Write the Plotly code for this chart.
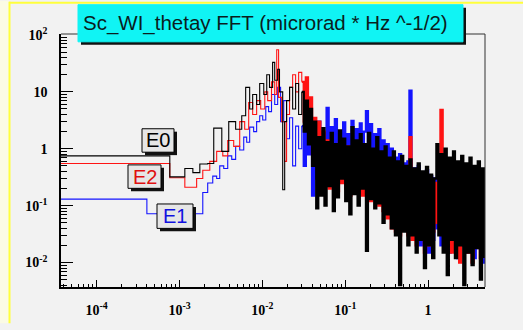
import plotly.graph_objects as go

# ---- spectra: low-frequency staircase part (frequency in Hz, amplitude) ----
e0_lo_f = [3e-5, 7.64e-4, 1.16e-3, 1.45e-3, 1.76e-3, 2.19e-3, 2.59e-3, 3.24e-3, 3.93e-3, 4.76e-3,
           5.64e-3, 6.29e-3, 7.03e-3, 7.64e-3, 8.53e-3, 9.29e-3, 1.04e-2, 1.13e-2, 1.22e-2, 1.33e-2,
           1.41e-2, 1.53e-2, 1.61e-2, 1.76e-2, 1.86e-2, 1.96e-2, 2.13e-2, 2.32e-2, 2.52e-2, 2.74e-2]
e0_lo_v = [0.75, 0.32, 0.45, 0.38, 0.54, 0.55, 2.3, 0.9, 3.0, 2.2,
           3.8, 12, 5, 9, 6, 14, 9, 20, 12, 33,
           16, 25, 10, 0.19, 3, 7, 12, 5, 14, 4]

e2_lo_f = [3e-5, 7.64e-4, 1.16e-3, 1.61e-3, 1.91e-3, 2.32e-3, 2.81e-3, 3.33e-3, 3.82e-3, 4.51e-3,
           5.33e-3, 6.12e-3, 6.84e-3, 7.64e-3, 8.53e-3, 9.55e-3, 1.07e-2, 1.16e-2, 1.29e-2, 1.41e-2,
           1.49e-2, 1.57e-2, 1.71e-2, 1.86e-2, 1.96e-2, 2.13e-2, 2.32e-2, 2.52e-2, 2.74e-2]
e2_lo_v = [0.55, 0.31, 0.21, 0.3, 0.42, 0.6, 0.9, 0.75, 1.4, 1.1,
           3.0, 2.2, 6.5, 4, 7, 5, 10, 7, 15, 9,
           55, 8, 3, 0.6, 4, 12, 20, 10, 22]

e1_lo_f = [3e-5, 4.04e-4, 1.91e-3, 2.19e-3, 2.52e-3, 2.81e-3, 3.06e-3, 3.42e-3, 3.82e-3, 4.27e-3,
           4.76e-3, 5.33e-3, 5.96e-3, 6.47e-3, 7.03e-3, 7.85e-3, 8.53e-3, 9.29e-3, 1.01e-2, 1.10e-2,
           1.19e-2, 1.29e-2, 1.41e-2, 1.53e-2, 1.66e-2, 1.81e-2, 1.96e-2, 2.13e-2, 2.32e-2, 2.52e-2,
           2.74e-2]
e1_lo_v = [0.13, 0.072, 0.17, 0.25, 0.33, 0.3, 0.5, 0.45, 0.75, 0.65,
           1.1, 0.95, 1.6, 1.3, 2.4, 2.0, 3.0, 3.8, 3.2, 5.5,
           4.5, 9, 6, 12, 3, 7, 1.5, 3.5, 0.5, 2.5,
           1.0]

# ---- spectra: dense high-frequency part, shared frequency grid (Hz) ----
band_f = [0.0299, 0.0316, 0.0335, 0.0355, 0.0376, 0.0398, 0.0422, 0.0447, 0.0473, 0.0501,
          0.0531, 0.0562, 0.0596, 0.0631, 0.0668, 0.0708, 0.0750, 0.0794, 0.0841, 0.0891,
          0.0944, 0.100, 0.106, 0.112, 0.119, 0.126, 0.133, 0.141, 0.150, 0.158,
          0.168, 0.178, 0.188, 0.200, 0.211, 0.224, 0.237, 0.251, 0.266, 0.282,
          0.299, 0.316, 0.335, 0.355, 0.376, 0.398, 0.422, 0.447, 0.473, 0.501,
          0.531, 0.562, 0.596, 0.631, 0.668, 0.708, 0.750, 0.794, 0.841, 0.891,
          0.944, 1.00, 1.06, 1.12, 1.19, 1.26, 1.33, 1.41, 1.50, 1.58,
          1.68, 1.78, 1.88, 2.00, 2.11, 2.24, 2.37, 2.51, 2.66, 2.82,
          2.99, 3.16, 3.35, 3.55, 3.76, 3.98, 4.22, 4.47, 4.73]

e0_band_v = [10, 2.0, 7, 1.2, 5, 0.5, 3, 0.09, 1.6, 0.15,
             2.3, 0.1, 1.3, 0.22, 1.9, 0.08, 1.2, 0.14, 2.1, 0.3,
             1.5, 0.12, 1.1, 0.07, 2.4, 0.16, 1.4, 0.1, 1.8, 0.2,
             1.2, 0.016, 1.9, 0.13, 1.0, 0.09, 1.6, 0.11, 0.9, 0.05,
             1.1, 0.07, 0.7, 0.04, 0.9, 0.03, 0.6, 0.004, 0.75, 0.035,
             0.5, 0.02, 0.65, 0.03, 0.45, 0.015, 0.55, 0.025, 0.4, 0.008,
             0.48, 0.02, 0.35, 0.012, 0.3, 1.2, 0.03, 0.8, 0.015, 1.0,
             0.006, 0.7, 0.025, 0.9, 0.012, 0.6, 0.02, 0.75, 0.004, 0.55,
             0.015, 0.7, 0.009, 0.5, 0.018, 0.6, 0.005, 0.45, 0.012]

e2_band_v = [15, 3, 18, 2, 8, 0.8, 3.5, 0.6, 3.0, 0.3,
             2.0, 0.25, 1.4, 0.2, 1.2, 0.3, 1.0, 0.18, 1.3, 0.25,
             0.9, 0.2, 1.1, 0.15, 0.9, 0.3, 1.0, 0.2, 0.8, 0.15,
             0.9, 0.25, 0.8, 0.12, 0.7, 0.15, 0.6, 0.1, 0.55, 0.08,
             0.5, 0.06, 0.45, 0.04, 0.4, 0.035, 0.38, 0.03, 0.35, 0.04,
             0.33, 0.03, 1.6, 0.025, 0.3, 0.02, 0.28, 0.03, 0.27, 0.015,
             0.25, 0.02, 0.22, 0.035, 0.25, 0.05, 0.5, 4.8, 0.03, 0.45,
             0.02, 0.4, 0.015, 0.38, 0.025, 0.35, 0.01, 0.33, 0.02, 0.3,
             0.015, 0.3, 0.01, 0.28, 0.02, 0.27, 0.012, 0.25, 0.015]

e1_band_v = [2.5, 0.5, 2.0, 0.8, 2.6, 0.15, 2.2, 0.3, 3.0, 0.4,
             1.9, 0.35, 5.2, 0.3, 2.4, 0.5, 3.3, 0.28, 2.0, 0.4,
             2.9, 0.25, 1.8, 0.35, 3.1, 0.3, 2.2, 0.45, 2.8, 0.3,
             2.0, 4.6, 0.35, 2.7, 0.3, 1.8, 0.25, 2.2, 0.2, 1.4,
             0.15, 1.2, 0.1, 1.0, 0.08, 0.7, 0.06, 0.8, 0.05, 0.55,
             0.04, 0.6, 10.5, 0.035, 0.45, 0.03, 0.5, 0.02, 0.38, 0.03,
             0.42, 0.015, 0.33, 0.025, 0.3, 0.04, 0.36, 0.02, 0.3, 0.03,
             0.34, 0.015, 0.28, 0.025, 0.3, 0.012, 0.26, 0.02, 0.27, 0.015,
             0.23, 0.02, 0.25, 0.012, 0.21, 0.018, 0.22, 0.01, 0.2]

x_tick_vals = [1e-4, 1e-3, 1e-2, 1e-1, 1]
x_tick_text = ["10<sup>-4</sup>", "10<sup>-3</sup>", "10<sup>-2</sup>", "10<sup>-1</sup>", "1"]
y_tick_vals = [1e-2, 1e-1, 1, 10, 100]
y_tick_text = ["10<sup>-2</sup>", "10<sup>-1</sup>", "1", "10", "10<sup>2</sup>"]

title_text = "Sc_WI_thetay FFT (microrad * Hz ^-1/2)"

# ---- figure geometry (pixels) ----
W, H = 523, 330
L, R, T, B = 61, 485, 34, 293


def fx(px):
    return (px - L) / (R - L)


def fy(py):
    return (B - py) / (B - T)


fig = go.Figure()
series = [
    ("E1", e1_lo_f, e1_lo_v, e1_band_v, "#1414ff"),
    ("E2", e2_lo_f, e2_lo_v, e2_band_v, "#ff1414"),
    ("E0", e0_lo_f, e0_lo_v, e0_band_v, "#000000"),
]
# staircase part, thin
for name, lf, lv, bv, col in series:
    fig.add_trace(go.Scatter(
        x=lf + band_f[:1], y=lv + bv[:1], mode="lines", name=name,
        line=dict(color=col, width=1.1, shape="hv"), showlegend=False,
    ))
# dense part, where the bins crowd together on the log axis
for name, lf, lv, bv, col in series:
    fig.add_trace(go.Scatter(
        x=band_f, y=bv, mode="lines", name=name,
        line=dict(color=col, width=2.3, shape="hv"), showlegend=False,
    ))

minor_vals = [m * 10.0 ** e for e in range(-6, 3) for m in range(2, 10)]

fig.update_xaxes(
    type="log", range=[-4.43, 0.687],
    showline=True, linecolor="black", linewidth=1.5, mirror=False,
    showgrid=False, zeroline=False,
    ticks="inside", ticklen=7, tickwidth=1, tickcolor="black",
    tickmode="array", tickvals=x_tick_vals, ticktext=x_tick_text,
    tickfont=dict(family="Liberation Serif", size=14, color="black", weight="bold"),
    ticklabelstandoff=9,
    minor=dict(tickvals=minor_vals, ticks="inside", ticklen=3, tickwidth=1, tickcolor="black", showgrid=False),
)
fig.update_yaxes(
    type="log", range=[-2.43, 2.017],
    showline=True, linecolor="black", linewidth=1.5, mirror=False,
    showgrid=False, zeroline=False,
    ticks="inside", ticklen=12, tickwidth=1, tickcolor="black",
    tickmode="array", tickvals=y_tick_vals, ticktext=y_tick_text,
    tickfont=dict(family="Liberation Serif", size=14, color="black", weight="bold"),
    ticklabelstandoff=9,
    minor=dict(tickvals=minor_vals, ticks="inside", ticklen=6, tickwidth=1, tickcolor="black", showgrid=False),
)

shapes = []
# canvas frame: pale strip and yellow edges
shapes.append(dict(type="rect", xref="paper", yref="paper", x0=fx(0), x1=fx(9), y0=fy(330), y1=fy(0),
                   fillcolor="#fbfbe4", line=dict(width=0), layer="below"))
shapes.append(dict(type="line", xref="paper", yref="paper", x0=fx(9.5), x1=fx(9.5), y0=fy(330), y1=fy(1),
                   line=dict(color="#ffff3c", width=2), layer="below"))
shapes.append(dict(type="line", xref="paper", yref="paper", x0=fx(9), x1=fx(523), y0=fy(2), y1=fy(2),
                   line=dict(color="#ffff3c", width=2), layer="below"))
# thin top/right frame of the pad
shapes.append(dict(type="line", xref="paper", yref="paper", x0=0, x1=1, y0=1, y1=1,
                   line=dict(color="#333333", width=1)))
shapes.append(dict(type="line", xref="paper", yref="paper", x0=1, x1=1, y0=0, y1=1,
                   line=dict(color="#333333", width=1)))


def boxed(x0, y0, x1, y1, fill, border, shadow=3):
    shapes.append(dict(type="rect", xref="paper", yref="paper",
                       x0=fx(x0 + shadow), x1=fx(x1 + shadow), y0=fy(y1 + shadow), y1=fy(y0 + shadow),
                       fillcolor="#111111", line=dict(width=0), layer="above"))
    shapes.append(dict(type="rect", xref="paper", yref="paper",
                       x0=fx(x0), x1=fx(x1), y0=fy(y1), y1=fy(y0),
                       fillcolor=fill, line=dict(color=border, width=1), layer="above"))


# title pave
boxed(78, 4, 463, 42, "#10f4f4", "#10f4f4")
# series label paves
label_boxes = [("E0", 142, 131, 174, 155, "#000000"),
               ("E2", 128, 168, 161, 192, "#e01010"),
               ("E1", 157, 208, 193, 233, "#1010e0")]
for txt, x0, y0, x1, y1, col in label_boxes:
    boxed(x0, y0, x1, y1, "#e6e6e6", "#000000")

annotations = [dict(text=title_text, xref="paper", yref="paper", x=fx(265), y=fy(23),
                    xanchor="center", yanchor="middle", showarrow=False,
                    font=dict(family="Liberation Sans", size=20.5, color="#0a1e1e"))]
for txt, x0, y0, x1, y1, col in label_boxes:
    annotations.append(dict(text=txt, xref="paper", yref="paper", x=fx((x0 + x1) / 2), y=fy((y0 + y1) / 2),
                            xanchor="center", yanchor="middle", showarrow=False,
                            font=dict(family="Liberation Sans", size=20, color=col)))

fig.update_layout(
    width=W, height=H, autosize=False,
    margin=dict(l=L, r=W - R, t=T, b=H - B, pad=0),
    paper_bgcolor="#f2f2f2", plot_bgcolor="#f2f2f2",
    shapes=shapes, annotations=annotations, showlegend=False,
)

fig.write_html("out.html", config={"displayModeBar": False})
